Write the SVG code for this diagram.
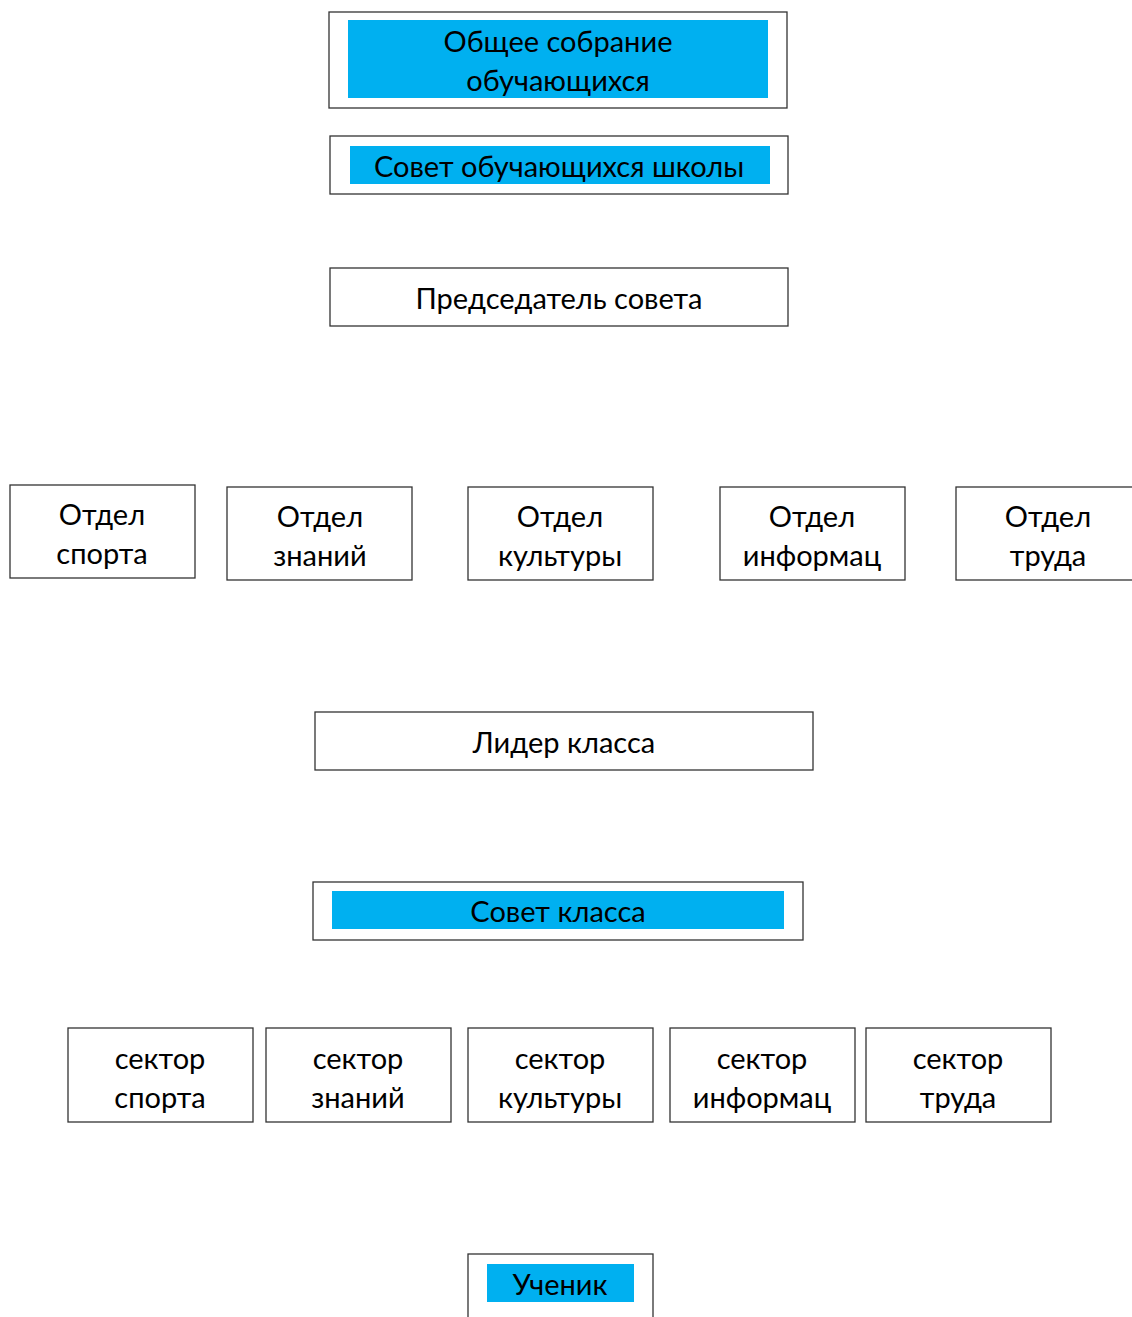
<svg xmlns="http://www.w3.org/2000/svg" width="1132" height="1317" viewBox="0 0 1132 1317">
<style>
.box{fill:#fff;stroke:#333;stroke-width:1.3}
.hl{fill:#00B0F0}
text{font-family:Lato,"Liberation Sans",sans-serif;font-size:29px;fill:#000;text-anchor:middle}
</style>
<rect width="1132" height="1317" fill="#fff"/>
<g id="connectors"></g>
<g id="n-sobranie">
<rect class="box" x="329" y="12" width="458" height="96"/>
<rect class="hl" x="348" y="20" width="420" height="78"/>
<text x="558" y="52">Общее собрание</text>
<text x="558" y="91">обучающихся</text>
</g>
<g id="n-sovet">
<rect class="box" x="330" y="136" width="458" height="58"/>
<rect class="hl" x="350" y="146" width="420" height="38"/>
<text x="559" y="177">Совет обучающихся школы</text>
</g>
<g id="n-predsedatel">
<rect class="box" x="330" y="268" width="458" height="58"/>
<text x="559" y="309">Председатель совета</text>
</g>
<g id="n-otdel-sport">
<rect class="box" x="10" y="485" width="185" height="93"/>
<text x="102" y="525">Отдел</text>
<text x="102" y="564">спорта</text>
</g>
<g id="n-otdel-znaniy">
<rect class="box" x="227" y="487" width="185" height="93"/>
<text x="320" y="527">Отдел</text>
<text x="320" y="566">знаний</text>
</g>
<g id="n-otdel-kultury">
<rect class="box" x="468" y="487" width="185" height="93"/>
<text x="560" y="527">Отдел</text>
<text x="560" y="566">культуры</text>
</g>
<g id="n-otdel-inform">
<rect class="box" x="720" y="487" width="185" height="93"/>
<text x="812" y="527">Отдел</text>
<text x="812" y="566">информац</text>
</g>
<g id="n-otdel-truda">
<rect class="box" x="956" y="487" width="185" height="93"/>
<text x="1048" y="527">Отдел</text>
<text x="1048" y="566">труда</text>
</g>
<g id="n-lider">
<rect class="box" x="315" y="712" width="498" height="58"/>
<text x="564" y="753">Лидер класса</text>
</g>
<g id="n-sovet-klassa">
<rect class="box" x="313" y="882" width="490" height="58"/>
<rect class="hl" x="332" y="891" width="452" height="38"/>
<text x="558" y="922">Совет класса</text>
</g>
<g id="n-sektor-sport">
<rect class="box" x="68" y="1028" width="185" height="94"/>
<text x="160" y="1069">сектор</text>
<text x="160" y="1108">спорта</text>
</g>
<g id="n-sektor-znaniy">
<rect class="box" x="266" y="1028" width="185" height="94"/>
<text x="358" y="1069">сектор</text>
<text x="358" y="1108">знаний</text>
</g>
<g id="n-sektor-kultury">
<rect class="box" x="468" y="1028" width="185" height="94"/>
<text x="560" y="1069">сектор</text>
<text x="560" y="1108">культуры</text>
</g>
<g id="n-sektor-inform">
<rect class="box" x="670" y="1028" width="185" height="94"/>
<text x="762" y="1069">сектор</text>
<text x="762" y="1108">информац</text>
</g>
<g id="n-sektor-truda">
<rect class="box" x="866" y="1028" width="185" height="94"/>
<text x="958" y="1069">сектор</text>
<text x="958" y="1108">труда</text>
</g>
<g id="n-uchenik">
<rect class="box" x="468" y="1254" width="185" height="80"/>
<rect class="hl" x="487" y="1264" width="147" height="38"/>
<text x="560" y="1295">Ученик</text>
</g>
</svg>
